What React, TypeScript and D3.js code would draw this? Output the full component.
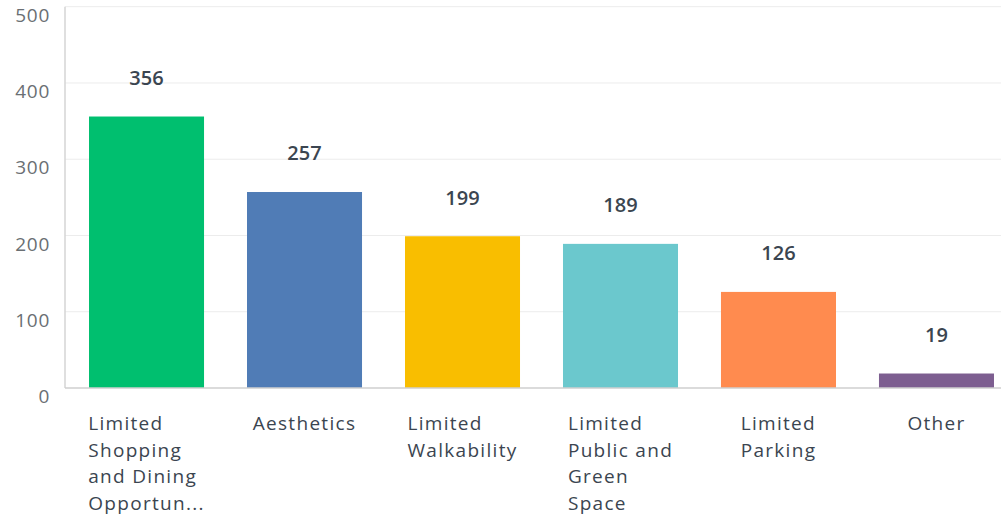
import React, { useLayoutEffect, useRef, useState } from "react";
import * as d3 from "d3";

const categories = [
  "Limited Shopping and Dining Opportunities",
  "Aesthetics",
  "Limited Walkability",
  "Limited Public and Green Space",
  "Limited Parking",
  "Other",
];
const labelLines = [
  ["Limited", "Shopping", "and Dining", "Opportun..."],
  ["Aesthetics"],
  ["Limited", "Walkability"],
  ["Limited", "Public and", "Green", "Space"],
  ["Limited", "Parking"],
  ["Other"],
];
const values = [356, 257, 199, 189, 126, 19];
const colors = ["#00BF6F", "#507CB6", "#F9BE00", "#6BC8CD", "#FF8B4F", "#7D5E90"];
const yTicks = [0, 100, 200, 300, 400, 500];

const W = 1001;
const H = 516;
const FONT = "'Open Sans', sans-serif";

export default function App() {
  const x0 = 65;
  const y = d3.scaleLinear().domain([0, 500]).range([388, 6.7]);
  const x = d3
    .scaleBand<number>()
    .domain(d3.range(categories.length))
    .range([x0, 1018])
    .paddingInner(0.272)
    .paddingOuter(0.152);

  const refs = useRef<(SVGGElement | null)[]>([]);
  const [widths, setWidths] = useState<number[]>(categories.map(() => 0));
  useLayoutEffect(() => {
    setWidths(refs.current.map((g) => (g ? g.getBBox().width : 0)));
  }, []);

  return (
    <svg
      width={W}
      height={H}
      style={{ position: "absolute", left: 0, top: 0, background: "#fff" }}
      fontFamily={FONT}
    >
      {yTicks.map((t) => (
        <g key={t}>
          {t > 0 && (
            <line x1={x0} x2={W} y1={y(t)} y2={y(t)} stroke="#ececec" strokeWidth={1} />
          )}
          <text
            x={50}
            y={y(t) + 10}
            textAnchor="end"
            dominantBaseline="middle"
            fontSize={19}
            fill="#6a6f73"
            letterSpacing={0.7}
          >
            {t}
          </text>
        </g>
      ))}
      <line x1={x0} x2={x0} y1={y(500)} y2={y(0)} stroke="#d4d4d4" strokeWidth={1.5} />
      {values.map((v, i) => {
        const cx = (x(i) as number) + x.bandwidth() / 2;
        return (
          <g key={i}>
            <rect
              x={x(i)}
              y={y(v)}
              width={x.bandwidth()}
              height={y(0) - y(v)}
              fill={colors[i]}
            />
            <text
              x={cx}
              y={y(v) - 37}
              textAnchor="middle"
              dominantBaseline="middle"
              fontSize={20}
              fontWeight={600}
              fill="#3b4550"
            >
              {v}
            </text>
            <g
              ref={(el) => {
                refs.current[i] = el;
              }}
              transform={`translate(${cx - widths[i] / 2},0)`}
            >
              {labelLines[i].map((ln, j) => (
                <text
                  key={j}
                  x={0}
                  y={430 + j * 26.5}
                  fontSize={19}
                  fill="#3b4550"
                  letterSpacing={1.3}
                >
                  {ln}
                </text>
              ))}
            </g>
          </g>
        );
      })}
      <line x1={x0} x2={W} y1={y(0)} y2={y(0)} stroke="#cfcfcf" strokeWidth={1.5} />
    </svg>
  );
}
